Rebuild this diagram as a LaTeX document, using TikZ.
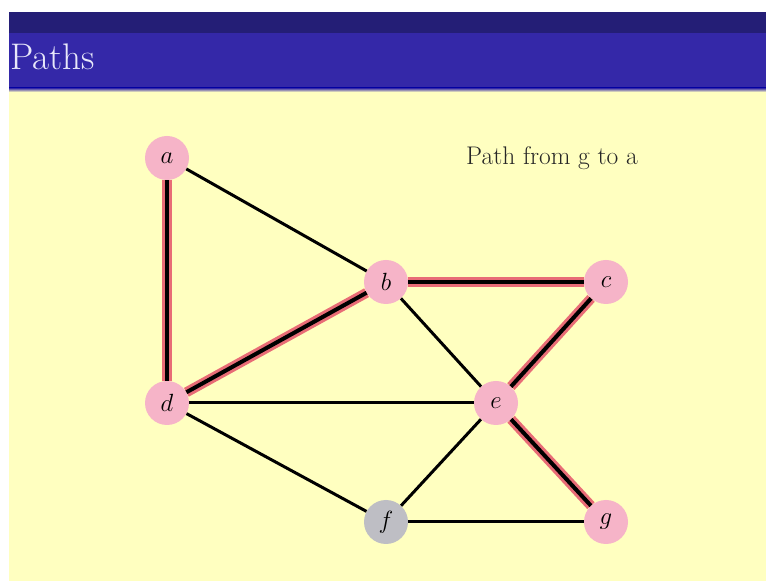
\documentclass[tikz,border=0pt]{standalone}
\definecolor{slidebg}{RGB}{255,255,192}
\definecolor{titleblue}{RGB}{52,40,168}
\definecolor{topblue}{RGB}{36,30,118}
\definecolor{vertpink}{RGB}{246,180,200}
\definecolor{vertgray}{RGB}{190,190,196}
\definecolor{halored}{RGB}{232,108,118}
\definecolor{titletext}{RGB}{232,232,250}
\usepackage{tikz}
\usetikzlibrary{calc}

\begin{document}
\begin{tikzpicture}[x=1pt, y=1pt,
        vert/.style={circle, fill=vertpink, minimum size=44pt, inner sep=0pt,
                     font=\fontsize{26}{28}\selectfont},
        edge/.style={line width=3pt, black},
        hledge/.style={line width=10pt, halored},
        hlcore/.style={line width=4pt, black}
      ]
        \useasboundingbox (0,0) rectangle (766,581);
        % slide background and title bar
        \fill[white] (0,0) rectangle (766,581);
        \fill[slidebg] (9,0) rectangle (766,496);
        \fill[titleblue] (9,493) rectangle (766,548);
        \shade[top color=titleblue, bottom color=slidebg] (9,493) rectangle (766,489);
        \fill[topblue] (9,548) rectangle (766,569);
        \node[anchor=base west, text=titletext, font=\fontsize{37}{40}\selectfont, inner sep=0pt]
          (title) at (10,511) {Paths};
        \node[text=black!85, font=\fontsize{25.5}{28}\selectfont]
          (caption) at (552,423) {Path from g to a};
        % vertices
        \node[vert] (a) at (167,423) {$a$};
        \node[vert] (b) at (386,299) {$b$};
        \node[vert] (c) at (606,299) {$c$};
        \node[vert] (d) at (167,178) {$d$};
        \node[vert] (e) at (496,178) {$e$};
        \node[vert, fill=vertgray] (f) at (386,59) {$f$};
        \node[vert] (g) at (606,59) {$g$};
        % path from g to a
        \draw[hledge] (a)--(d);
        \draw[hledge] (d)--(b);
        \draw[hledge] (b)--(c);
        \draw[hledge] (c)--(e);
        \draw[hledge] (e)--(g);
        \draw[hlcore] (a)--(d);
        \draw[hlcore] (d)--(b);
        \draw[hlcore] (b)--(c);
        \draw[hlcore] (c)--(e);
        \draw[hlcore] (e)--(g);
        % other edges
        \draw[edge] (a)--(b);
        \draw[edge] (b)--(e);
        \draw[edge] (d)--(e);
        \draw[edge] (d)--(f);
        \draw[edge] (e)--(f);
        \draw[edge] (f)--(g);
      \end{tikzpicture}
\end{document}
